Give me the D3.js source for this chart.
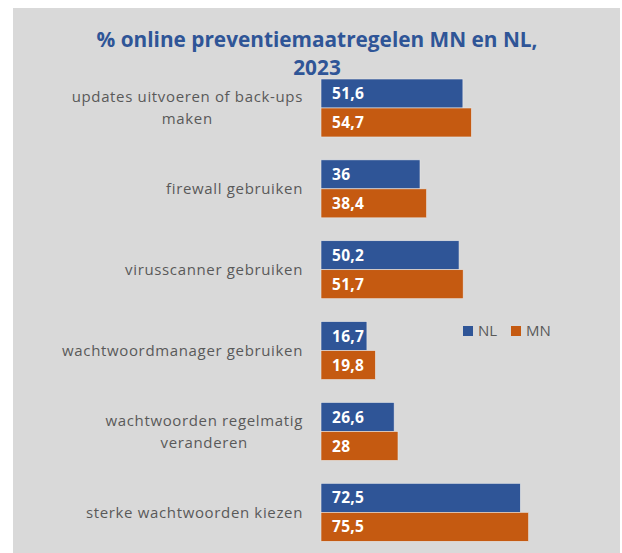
<!DOCTYPE html>
<html><head><meta charset="utf-8">
<script src="https://cdn.jsdelivr.net/npm/d3@7"></script>
<style>body{margin:0;background:#fff}svg{display:block}</style>
</head><body>
<script>
const categories = [
  "updates uitvoeren of back-ups\nmaken",
  "firewall gebruiken",
  "virusscanner gebruiken",
  "wachtwoordmanager gebruiken",
  "wachtwoorden regelmatig\nveranderen",
  "sterke wachtwoorden kiezen"
];
const seriesNames = ["NL", "MN"];
const valuesNL = [51.6, 36, 50.2, 16.7, 26.6, 72.5];
const valuesMN = [54.7, 38.4, 51.7, 19.8, 28, 75.5];
const colors = {NL: "#2F5597", MN: "#C55A11"};
const titleLines = ["% online preventiemaatregelen MN en NL,", "2023"];

const W = 622, H = 553;
const font = "'Open Sans', sans-serif";
const svg = d3.select("body").append("svg").attr("width", W).attr("height", H);
svg.append("rect").attr("x", 13).attr("y", 8).attr("width", 607).attr("height", H - 8).attr("fill", "#D9D9D9");

// title
svg.append("g").selectAll("text").data(titleLines).join("text")
  .attr("x", 317).attr("y", (d, i) => 47 + i * 28)
  .attr("text-anchor", "middle").attr("font-family", font).attr("font-weight", "bold")
  .attr("font-size", 20.8).attr("fill", "#2F5597").text(d => d);

const y = d3.scaleBand().domain(categories).range([79, 541.3]).paddingInner(0.283).paddingOuter(0);
const ySub = d3.scaleBand().domain(seriesNames).range([0, y.bandwidth()]);
const x = d3.scaleLinear().domain([0, 80]).range([321, 321 + 80 * 2.75]);

const data = categories.map((c, i) => ({cat: c, vals: [{s: "NL", v: valuesNL[i]}, {s: "MN", v: valuesMN[i]}]}));

const g = svg.append("g").selectAll("g").data(data).join("g")
  .attr("transform", d => `translate(0,${y(d.cat)})`);

g.selectAll("rect").data(d => d.vals).join("rect")
  .attr("x", x(0)).attr("y", d => ySub(d.s))
  .attr("width", d => x(d.v) - x(0)).attr("height", ySub.bandwidth())
  .attr("fill", d => colors[d.s]).attr("stroke", "#E8E8E8").attr("stroke-width", 0.6);

g.selectAll("text.val").data(d => d.vals).join("text").attr("class", "val")
  .attr("x", x(0) + 11).attr("y", d => ySub(d.s) + ySub.bandwidth() / 2)
  .attr("dy", "0.36em").attr("font-family", font).attr("font-weight", "bold")
  .attr("font-size", 15.5).attr("letter-spacing", 0.3).attr("fill", "#fff")
  .text(d => String(d.v).replace(".", ","));

// category labels
const labelG = svg.append("g");
data.forEach(d => {
  const lines = d.cat.split("\n");
  const t = labelG.append("text").attr("font-family", font).attr("font-size", 15)
    .attr("letter-spacing", 0.65).attr("fill", "#595959");
  const cy = y(d.cat) + y.bandwidth() / 2;
  lines.forEach((l, i) => {
    t.append("tspan").attr("y", cy + (i - (lines.length - 1) / 2) * 22).attr("dy", "0.35em").text(l);
  });
  const tspans = t.selectAll("tspan").nodes();
  const maxW = d3.max(tspans, n => n.getComputedTextLength());
  const cx = 303 - maxW / 2;
  t.attr("text-anchor", "middle").selectAll("tspan").attr("x", cx);
});

// legend
const leg = svg.append("g").attr("transform", "translate(463,326)");
const legX = [0, 48];
seriesNames.forEach((s, i) => {
  leg.append("rect").attr("x", legX[i]).attr("y", 0).attr("width", 10).attr("height", 10).attr("fill", colors[s]);
  leg.append("text").attr("x", legX[i] + 15).attr("y", 5).attr("dy", "0.36em")
    .attr("font-family", font).attr("font-size", 15).attr("fill", "#595959").text(s);
});
</script>
</body></html>
